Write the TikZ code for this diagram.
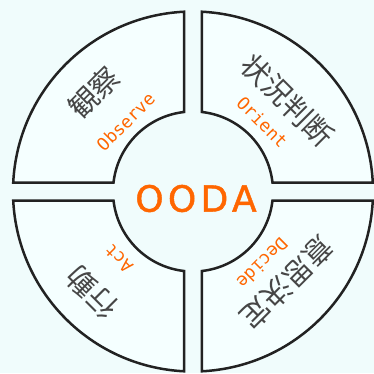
\documentclass[tikz,border=0pt]{standalone}
\usepackage{fontspec}
\newfontfamily\jpfont{Noto Sans CJK JP}
\newfontfamily\enfont{DejaVu Sans Mono}
\newfontfamily\oodafont[LetterSpace=12,FakeBold=1.2]{DejaVu Sans}
\definecolor{bgc}{RGB}{240,252,252}
\definecolor{secfill}{RGB}{245,255,255}
\definecolor{oranget}{RGB}{255,102,0}
\definecolor{jpgray}{RGB}{70,70,70}
\definecolor{edgec}{RGB}{34,34,34}
\begin{document}
\begin{tikzpicture}[x=1pt,y=1pt,
  sector/.style={draw=edgec,line width=2.5pt,fill=secfill,line join=miter},
  jp/.style={text=jpgray,font=\jpfont\fontsize{29}{31}\selectfont,inner sep=0pt},
  en/.style={text=oranget,font=\enfont\fontsize{17.5}{19}\selectfont,inner sep=0pt},
]
\fill[bgc] (-193,-181.5) rectangle (181,191.5);
\useasboundingbox (-193,-181.5) rectangle (181,191.5);
\def\Ro{180}\def\Ri{80}\def\ao{2.866}\def\ai{6.459}
\foreach \q in {0,90,180,270}{
  \draw[sector] (\q+\ao:\Ro) arc[start angle=\q+\ao,end angle=\q+90-\ao,radius=\Ro]
    -- (\q+90-\ai:\Ri) arc[start angle=\q+90-\ai,end angle=\q+\ai,radius=\Ri] -- cycle;
}
\node[jp,rotate=45] (obsjp) at (135:140) {観察};
\node[en,rotate=45] (obsen) at (134:97) {Observe};
\node[jp,rotate=-45] (orjp) at (44:131) {状況判断};
\node[en,rotate=-45] (oren) at (45:98) {Orient};
\node[jp,rotate=225] (dejp) at (-44:131) {意思決定};
\node[en,rotate=225] (deen) at (-46:100) {Decide};
\node[jp,rotate=135] (acjp) at (-135:143) {行動};
\node[en,rotate=135] (acen) at (-138:100) {Act};
\node[text=oranget,font=\oodafont\fontsize{36}{40}\selectfont,inner sep=0pt] (ooda) at (3,-7) {OODA};
\end{tikzpicture}
\end{document}
